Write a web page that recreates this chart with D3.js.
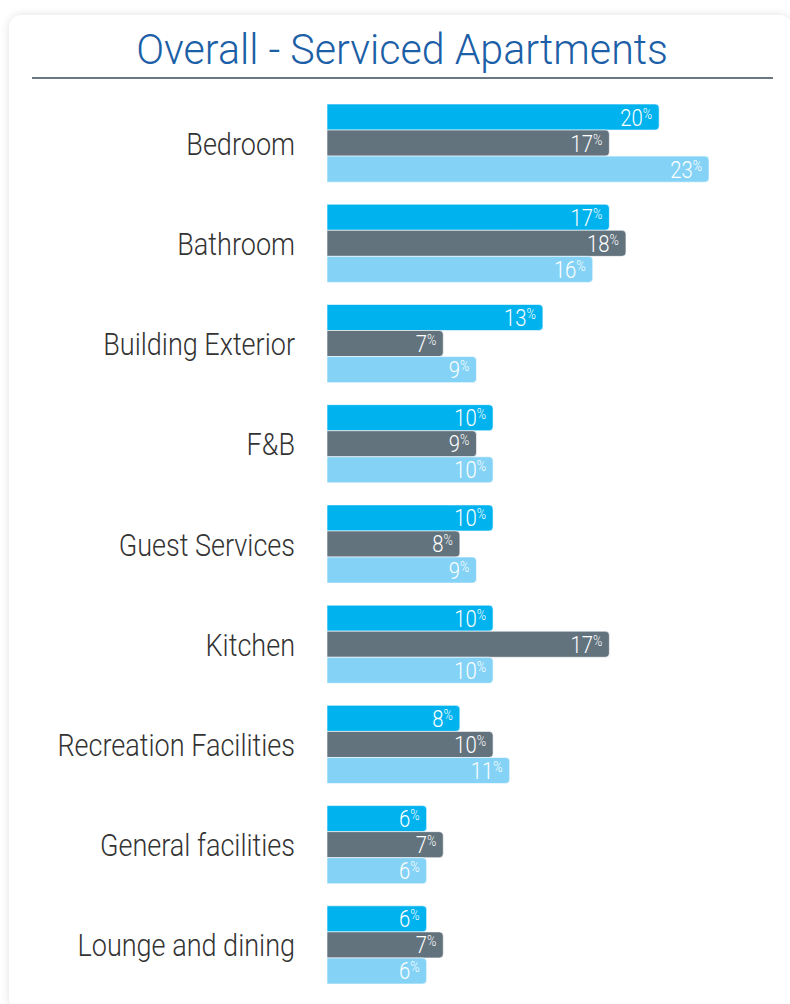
<!DOCTYPE html>
<html>
<head>
<meta charset="utf-8">
<script src="https://cdn.jsdelivr.net/npm/d3@7"></script>
<style>
  body { margin: 0; background: #ffffff; }
  svg { display: block; }
</style>
</head>
<body>
<script>
// Datos del gráfico
const categorias = [
  "Bedroom",
  "Bathroom",
  "Building Exterior",
  "F&B",
  "Guest Services",
  "Kitchen",
  "Recreation Facilities",
  "General facilities",
  "Lounge and dining",
];
const series = ["serie1", "serie2", "serie3"];
const serie1 = [20, 17, 13, 10, 10, 10, 8, 6, 6];
const serie2 = [17, 18, 7, 9, 8, 17, 10, 7, 7];
const serie3 = [23, 16, 9, 10, 9, 10, 11, 6, 6];
const colores = ["#00b3ef", "#63737e", "#84d3f6"];

const WIDTH = 790;
const HEIGHT = 1004;
const FUENTE = "Roboto, 'Liberation Sans', sans-serif";
// compresión horizontal para simular la fuente condensada
const ANGOSTO_TITULO = 0.98;
const ANGOSTO = 0.845;

const svg = d3.select("body")
  .append("svg")
  .attr("width", WIDTH)
  .attr("height", HEIGHT);

// Sombra de la tarjeta
const filtro = svg.append("defs").append("filter")
  .attr("id", "sombra")
  .attr("x", "-5%").attr("y", "-5%")
  .attr("width", "110%").attr("height", "110%");
filtro.append("feDropShadow")
  .attr("dx", 0).attr("dy", 0)
  .attr("stdDeviation", 4)
  .attr("flood-color", "#000")
  .attr("flood-opacity", 0.12);

svg.append("rect")
  .attr("x", 9).attr("y", 15)
  .attr("width", 783).attr("height", 995)
  .attr("rx", 13)
  .attr("fill", "#ffffff")
  .attr("filter", "url(#sombra)");

// Título y línea
svg.append("text")
  .attr("transform", `translate(402, 64) scale(${ANGOSTO_TITULO}, 1)`)
  .attr("text-anchor", "middle")
  .attr("font-family", FUENTE)
  .attr("font-weight", 300)
  .attr("font-size", 42)
  .attr("fill", "#1c5fa7")
  .text("Overall - Serviced Apartments");

svg.append("line")
  .attr("x1", 32).attr("x2", 773)
  .attr("y1", 78).attr("y2", 78)
  .attr("stroke", "#6b7884")
  .attr("stroke-width", 2);

// Escalas
const escalaY = d3.scaleBand()
  .domain(categorias)
  .range([104, 984])
  .paddingInner(0.22)
  .paddingOuter(0);

const escalaSerie = d3.scaleBand()
  .domain(series)
  .range([0, escalaY.bandwidth()]);

const X0 = 327;
const escalaX = d3.scaleLinear()
  .domain([0, 23])
  .range([0, 382]);

const datos = categorias.map((c, i) => ({
  categoria: c,
  valores: [serie1[i], serie2[i], serie3[i]],
}));

// Barra con esquinas redondeadas solo a la derecha
function barra(x, y, w, h, r) {
  return `M${x},${y}h${w - r}a${r},${r} 0 0 1 ${r},${r}v${h - 2 * r}` +
    `a${r},${r} 0 0 1 ${-r},${r}h${-(w - r)}z`;
}

const grupos = svg.append("g")
  .selectAll("g")
  .data(datos)
  .join("g")
  .attr("transform", (d) => `translate(0, ${escalaY(d.categoria)})`);

// Etiquetas de categorías
grupos.append("text")
  .attr("transform", `translate(295, ${escalaY.bandwidth() / 2 + 11.5}) scale(${ANGOSTO}, 1)`)
  .attr("text-anchor", "end")
  .attr("font-family", FUENTE)
  .attr("font-weight", 300)
  .attr("font-size", 32)
  .attr("fill", "#333333")
  .text((d) => d.categoria);

const barras = grupos.selectAll("g.barra")
  .data((d) => d.valores.map((v, j) => ({ serie: series[j], valor: v, color: colores[j] })))
  .join("g")
  .attr("class", "barra")
  .attr("transform", (d) => `translate(0, ${escalaSerie(d.serie)})`);

barras.append("path")
  .attr("d", (d) => barra(X0, 0, escalaX(d.valor), escalaSerie.bandwidth(), 4))
  .attr("fill", (d) => d.color)
  .attr("stroke", "#ffffff")
  .attr("stroke-width", 0.6);

// Etiquetas de valores: número y "%" en superíndice
const etiquetas = barras.append("text")
  .attr("transform", (d) => `translate(${X0 + escalaX(d.valor) - 7}, 21.5) scale(${ANGOSTO}, 1)`)
  .attr("text-anchor", "end")
  .attr("font-family", FUENTE)
  .attr("font-weight", 300)
  .attr("fill", "#ffffff");

etiquetas.append("tspan")
  .attr("font-size", 24)
  .text((d) => d.valor);

etiquetas.append("tspan")
  .attr("font-size", 15)
  .attr("dy", -7)
  .text("%");
</script>
</body>
</html>
